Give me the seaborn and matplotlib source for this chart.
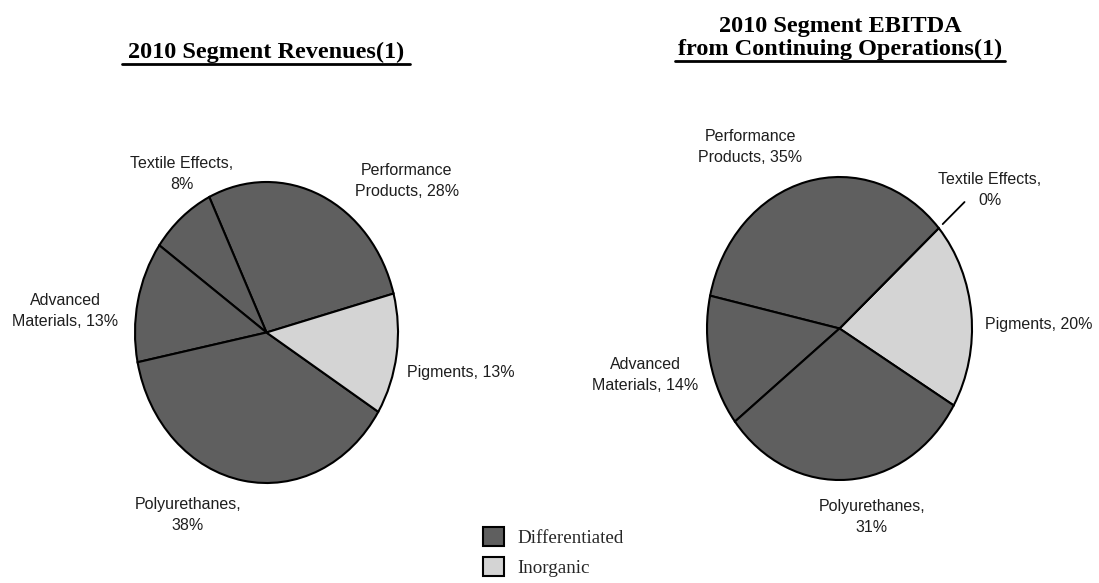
import matplotlib
matplotlib.use("Agg")
import matplotlib.pyplot as plt
import seaborn as sns
import numpy as np
from matplotlib.patches import Patch
from matplotlib.lines import Line2D

# segment shares (%), in counterclockwise drawing order
rev_segments = ["Performance Products", "Textile Effects", "Advanced Materials", "Polyurethanes", "Pigments"]
rev_share = [28, 8, 13, 38, 13]
rev_group = ["Differentiated", "Differentiated", "Differentiated", "Differentiated", "Inorganic"]

ebitda_segments = ["Pigments", "Textile Effects", "Performance Products", "Advanced Materials", "Polyurethanes"]
ebitda_share = [20, 0, 35, 14, 31]
ebitda_group = ["Inorganic", "Differentiated", "Differentiated", "Differentiated", "Differentiated"]

groups = ["Differentiated", "Inorganic"]

# how each segment label wraps
label_fmt = {
    "Performance Products": "Performance\nProducts, {}%",
    "Textile Effects": "Textile Effects,\n{}%",
    "Advanced Materials": "Advanced\nMaterials, {}%",
    "Polyurethanes": "Polyurethanes,\n{}%",
    "Pigments": "Pigments, {}%",
}

sns.set_theme(style="white")
plt.rcParams["font.family"] = ["Liberation Sans", "DejaVu Sans"]

W, H = 1099, 583
fig = plt.figure(figsize=(W / 100, H / 100), dpi=100)
colors = dict(zip(groups, sns.color_palette(["#5f5f5f", "#d4d4d4"])))


def pie_axes(cx, cy, rx, ry):
    # axes placed in pixel terms, pie is slightly stretched vertically like the original
    return fig.add_axes([(cx - rx) / W, 1 - (cy + ry) / H, 2 * rx / W, 2 * ry / H])


def draw_pie(ax, share, group, start):
    wedges, _ = ax.pie(share, colors=[colors[g] for g in group], startangle=start,
                       counterclock=True,
                       wedgeprops=dict(edgecolor="black", linewidth=1.5))
    for w in wedges:
        w.set_clip_on(False)
    ax.set_aspect("auto")
    ax.set_xlim(-1, 1)
    ax.set_ylim(-1, 1)
    ax.axis("off")


def put_labels(segments, share, positions):
    for seg, val in zip(segments, share):
        x, y = positions[seg]
        fig.text(x / W, 1 - y / H, label_fmt[seg].format(val), ha="center", va="center",
                 fontsize=11.5, color="#1e1e1e", linespacing=1.5)


# left pie: revenues
ax1 = pie_axes(266.5, 332.5, 131.5, 150.5)
draw_pie(ax1, rev_share, rev_group, 15)
put_labels(rev_segments, rev_share, {
    "Performance Products": (407, 181),
    "Textile Effects": (182, 174),
    "Advanced Materials": (65, 311),
    "Polyurethanes": (188, 515),
    "Pigments": (461, 372),
})

# right pie: EBITDA
ebitda_start = -30.5
ax2 = pie_axes(839.5, 328.5, 132.5, 151.5)
draw_pie(ax2, ebitda_share, ebitda_group, ebitda_start)
put_labels(ebitda_segments, ebitda_share, {
    "Performance Products": (750, 147),
    "Textile Effects": (990, 190),
    "Pigments": (1039, 325),
    "Advanced Materials": (645, 375),
    "Polyurethanes": (872, 517),
})

# leader line for the 0% Textile Effects slice
ang = np.deg2rad(ebitda_start + 360 * sum(ebitda_share[:2]) / sum(ebitda_share))
r = np.array([1.04, 1.26])
ax2.plot(r * np.cos(ang), r * np.sin(ang), color="black", lw=1.3, clip_on=False)

# titles, bold serif and underlined
t1 = fig.text(266 / W, 1 - 52 / H, "2010 Segment Revenues(1)", ha="center", va="center",
              fontsize=17.5, fontweight="bold", family="Liberation Serif", color="black")
t2 = fig.text(840 / W, 1 - 38 / H, "2010 Segment EBITDA\nfrom Continuing Operations(1)",
              ha="center", va="center", fontsize=17.5, fontweight="bold",
              family="Liberation Serif", color="black", linespacing=1.1)

# legend
handles = [Patch(facecolor=colors[g], edgecolor="black", linewidth=1.5, label=g) for g in groups]
fig.legend(handles=handles, loc="upper left", bbox_to_anchor=(483 / W, 1 - 527 / H),
           frameon=False, borderpad=0, borderaxespad=0, handlelength=1.1, handleheight=1.15,
           handletextpad=0.7, labelspacing=0.55,
           prop={"family": "Liberation Serif", "size": 13.7})

fig.canvas.draw()
renderer = fig.canvas.get_renderer()
for t, pad in [(t1, 6), (t2, 3)]:
    bb = t.get_window_extent(renderer)
    y = (bb.y0 - 1.5) / H
    fig.add_artist(Line2D([(bb.x0 - pad) / W, (bb.x1 + pad) / W], [y, y],
                          color="black", lw=2.0, transform=fig.transFigure))

fig.savefig("out.png", dpi=100)
